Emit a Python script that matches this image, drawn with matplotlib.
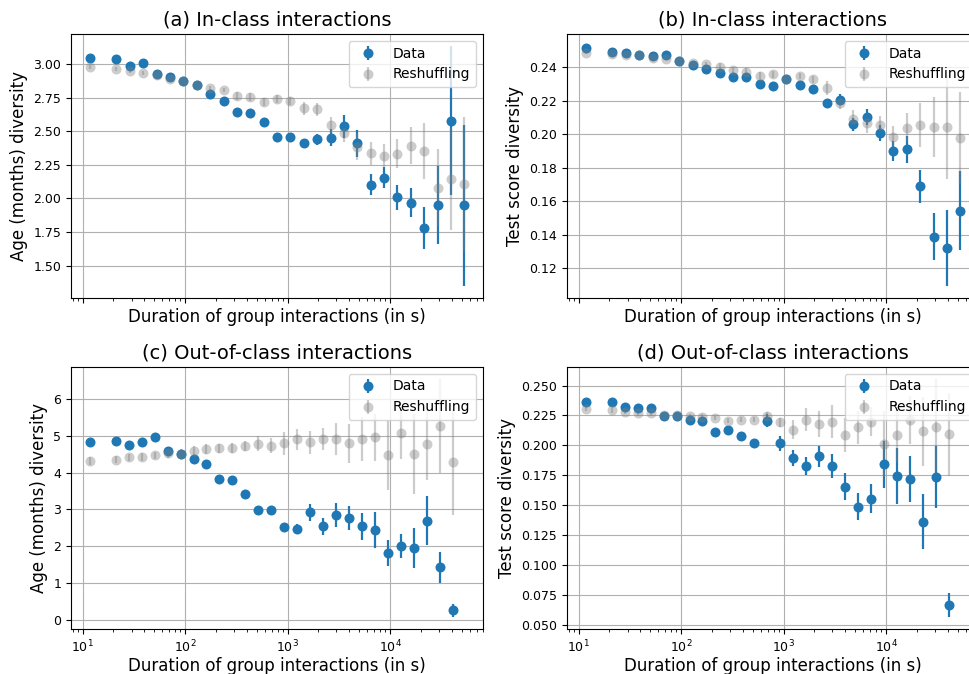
import matplotlib
matplotlib.use("Agg")
import matplotlib.pyplot as plt

# Durations (s) for in-class (top row) and out-of-class (bottom row)
dur_in = [11.7, 21.4, 29.0, 39.1, 52.8, 71.3, 96.4, 130, 176, 237, 321, 433, 585, 789,
          1067, 1439, 1945, 2624, 3548, 4786, 6471, 8730, 11803, 15922, 21528, 29040,
          39264, 52966]
dur_out = [11.7, 21.0, 28.2, 37.7, 50.4, 67.5, 90.3, 120.8, 161.6, 216.3, 289.4, 387.3,
           518.2, 693.4, 927.9, 1242, 1661, 2223, 2975, 3981, 5327, 7129, 9539, 12764,
           17080, 22856, 30584, 40926]

# (a) In-class, age diversity
a_data = [3.048, 3.04, 2.985, 3.005, 2.923, 2.90, 2.87, 2.843, 2.775, 2.728, 2.645, 2.635,
          2.565, 2.455, 2.455, 2.41, 2.44, 2.453, 2.538, 2.41, 2.103, 2.155, 2.008, 1.968,
          1.778, 1.948, 2.578, 1.948]
a_data_err = [0.01] * 8 + [0.015] * 7 + [0.025, 0.04, 0.06, 0.085, 0.1, 0.08, 0.08, 0.095,
                                         0.11, 0.155, 0.29, 0.556, 0.6]
a_shuf = [2.98, 2.963, 2.948, 2.935, 2.92, 2.888, 2.87, 2.845, 2.825, 2.81, 2.763, 2.755,
          2.72, 2.738, 2.728, 2.67, 2.663, 2.543, 2.49, 2.385, 2.335, 2.318, 2.333, 2.393,
          2.353, 2.08, 2.143, 2.108]
a_shuf_err = [0.015] * 10 + [0.03] * 5 + [0.05, 0.05, 0.06, 0.07, 0.1, 0.085, 0.09, 0.11,
                                          0.14, 0.21, 0.285, 0.38, 0.5]

# (b) In-class, test score diversity
b_data = [0.2515, 0.2492, 0.2486, 0.2474, 0.2468, 0.247, 0.2438, 0.241, 0.2386, 0.2364,
          0.234, 0.234, 0.2298, 0.2285, 0.233, 0.2295, 0.2271, 0.2185, 0.2205, 0.2058,
          0.2102, 0.2008, 0.19, 0.1908, 0.1688, 0.1387, 0.1321, 0.1544]
b_data_err = [0.001] * 17 + [0.0015, 0.0033, 0.004, 0.005, 0.0047, 0.006, 0.008, 0.01,
                             0.014, 0.0227, 0.0236]
b_shuf = [0.2486, 0.248, 0.247, 0.2474, 0.2456, 0.245, 0.2438, 0.2422, 0.2418, 0.2402,
          0.2382, 0.2372, 0.2348, 0.2356, 0.233, 0.2346, 0.2326, 0.2275, 0.2183, 0.2092,
          0.2068, 0.2052, 0.1984, 0.2038, 0.2054, 0.2042, 0.2042, 0.1978]
b_shuf_err = [0.001] * 9 + [0.002] * 8 + [0.004, 0.0035, 0.005, 0.006, 0.0055, 0.0065,
                                          0.0085, 0.013, 0.018, 0.031, 0.0275]

# (c) Out-of-class, age diversity
c_data = [4.818, 4.845, 4.755, 4.818, 4.964, 4.59, 4.51, 4.38, 4.22, 3.836, 3.81, 3.418,
          2.973, 2.973, 2.518, 2.48, 2.918, 2.536, 2.855, 2.764, 2.536, 2.445, 1.818, 2.0,
          1.955, 2.69, 1.427, 0.255]
c_data_err = [0.04] * 12 + [0.06, 0.06, 0.08, 0.13, 0.22, 0.24, 0.33, 0.33, 0.36, 0.49,
                            0.36, 0.32, 0.55, 0.67, 0.42, 0.18]
c_shuf = [4.318, 4.355, 4.41, 4.427, 4.464, 4.536, 4.51, 4.58, 4.636, 4.655, 4.673, 4.727,
          4.782, 4.727, 4.79, 4.9, 4.818, 4.918, 4.909, 4.79, 4.909, 4.964, 4.464, 5.073,
          4.51, 4.782, 5.264, 4.29]
c_shuf_err = [0.1] * 5 + [0.13] * 7 + [0.2, 0.2, 0.3, 0.28, 0.32, 0.3, 0.43, 0.53, 0.59,
                                       0.64, 0.93, 0.7, 1.09, 0.98, 1.28, 1.44]

# (d) Out-of-class, test score diversity
d_data = [0.2366, 0.2366, 0.2318, 0.2313, 0.231, 0.2246, 0.2246, 0.2209, 0.2201, 0.2109,
          0.2131, 0.2078, 0.2016, 0.2206, 0.2016, 0.1893, 0.1826, 0.1907, 0.1826, 0.1655,
          0.1488, 0.1552, 0.184, 0.1745, 0.1717, 0.1362, 0.1734, 0.0663]
d_data_err = [0.001] * 7 + [0.002] * 5 + [0.0025, 0.0055, 0.0063, 0.0066, 0.0074, 0.0084,
                                          0.0098, 0.0116, 0.0115, 0.0122, 0.02, 0.0235,
                                          0.019, 0.023, 0.026, 0.01]
d_shuf = [0.2307, 0.2293, 0.2282, 0.2268, 0.2268, 0.2254, 0.2257, 0.2246, 0.224, 0.2229,
          0.2206, 0.2215, 0.2215, 0.2243, 0.2192, 0.2131, 0.2215, 0.2176, 0.2198, 0.2089,
          0.215, 0.2198, 0.2013, 0.2089, 0.2215, 0.2117, 0.2156, 0.2092]
d_shuf_err = [0.002] * 13 + [0.0035, 0.004, 0.0077, 0.0094, 0.011, 0.0137, 0.0143, 0.0136,
                             0.012, 0.0275, 0.0228, 0.02, 0.029, 0.04, 0.035]

titles = ["(a) In-class interactions", "(b) In-class interactions",
          "(c) Out-of-class interactions", "(d) Out-of-class interactions"]
ylabels = ["Age (months) diversity", "Test score diversity",
           "Age (months) diversity", "Test score diversity"]
xlabel = "Duration of group interactions (in s)"
x_limits = (7.7, 80700)

W, H = 969, 674
fig, axes = plt.subplots(2, 2, figsize=(W / 100, H / 100), dpi=100, sharex=True)

panels = [
    (axes[0, 0], dur_in, a_data, a_data_err, a_shuf, a_shuf_err),
    (axes[0, 1], dur_in, b_data, b_data_err, b_shuf, b_shuf_err),
    (axes[1, 0], dur_out, c_data, c_data_err, c_shuf, c_shuf_err),
    (axes[1, 1], dur_out, d_data, d_data_err, d_shuf, d_shuf_err),
]

# axes rectangles in pixels: left, top, right, bottom
rects = [(71, 34, 483, 298), (567, 34, 979, 298), (71, 367, 483, 629), (567, 367, 979, 629)]

for i, (ax, x, yd, ed, ys, es) in enumerate(panels):
    l, t, r, b = rects[i]
    ax.set_position([l / W, (H - b) / H, (r - l) / W, (b - t) / H])
    ax.set_xscale('log')
    ax.errorbar(x, yd, yerr=ed, fmt='o', color='#1f77b4', markersize=7.2, mew=0,
                elinewidth=1.6, label='Data')
    ax.errorbar(x, ys, yerr=es, fmt='o', color='gray', alpha=0.4, markersize=7.2, mew=0,
                elinewidth=1.6, label='Reshuffling')
    ax.grid(True)
    ax.set_title(titles[i], fontsize=14)
    ax.set_ylabel(ylabels[i], fontsize=12)
    ax.set_xlabel(xlabel, fontsize=12, labelpad=1 if i >= 2 else 4)
    ax.tick_params(labelsize=9)
    ax.xaxis.set_tick_params(labelbottom=(i >= 2))
    ax.legend(loc='upper right', fontsize=10)

axes[0, 0].set_xlim(*x_limits)

fig.savefig("out.png", dpi=100)
